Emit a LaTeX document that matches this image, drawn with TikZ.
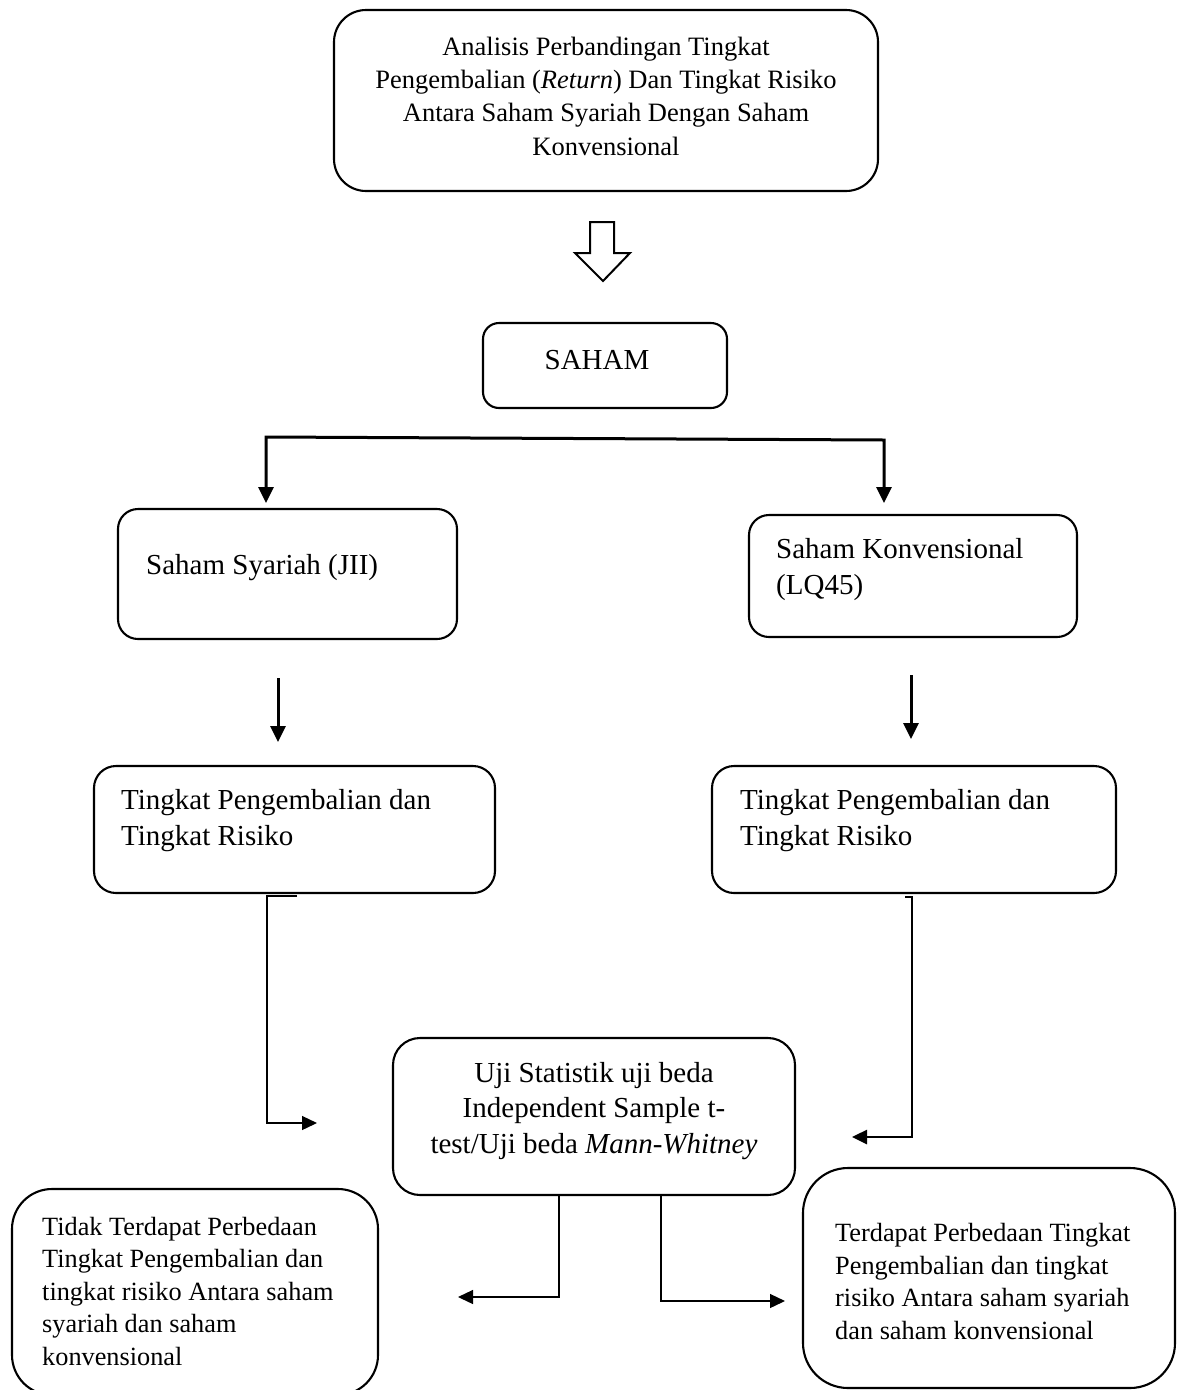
\documentclass[tikz,border=0pt]{standalone}
\usepackage{fontspec}
\setmainfont{Liberation Serif}
\usetikzlibrary{arrows.meta}
\begin{document}
\begin{tikzpicture}[x=1pt,y=-1pt,
  box/.style={draw, line width=2.1pt, rounded corners=#1, inner sep=0pt},
  txtA/.style={inner sep=0pt, font=\fontsize{26.5pt}{33.3pt}\selectfont},
  txtB/.style={inner sep=0pt, font=\fontsize{29pt}{35.5pt}\selectfont},
  txtC/.style={inner sep=0pt, font=\fontsize{26.3pt}{32.5pt}\selectfont},
  thk/.style={line width=3pt},
  thn/.style={line width=1.3pt},
  med/.style={line width=2.6pt},
  tipA/.style={-{Triangle[length=16pt,width=15pt]}},
  tipB/.style={-{Triangle[length=15pt,width=14pt]}}]
\useasboundingbox (0,0) rectangle (1177,1390);

% top box
\node[box=32pt, minimum width=544pt, minimum height=181pt] (top) at (606,100.5) {};
\node[txtA, align=center, anchor=base] (topT) at (606,155) {Analisis Perbandingan Tingkat\\Pengembalian (\textit{Return}) Dan Tingkat Risiko\\Antara Saham Syariah Dengan Saham\\Konvensional};

% hollow block arrow
\draw[line width=2pt, line join=miter] (590,222) -- (614,222) -- (614,253) -- (630,253) -- (603,281) -- (575,253) -- (590,253) -- cycle;

% SAHAM
\node[box=16pt, minimum width=244pt, minimum height=85pt] (saham) at (605,365.5) {};
\node[txtB, anchor=base] (sahamT) at (597,369) {SAHAM};

% branch
\coordinate (bL) at (266,437);
\coordinate (bR) at (884,440);
\coordinate (tL) at (266,503);
\coordinate (tR) at (884,503);
\draw[thk, {Triangle[length=16pt,width=15pt]}-{Triangle[length=16pt,width=15pt]}] (tL) -- (bL) -- (bR) -- (tR);

% Saham Syariah
\node[box=20pt, minimum width=339pt, minimum height=130pt] (syar) at (287.5,574) {};
\node[txtB, anchor=base west] (syarT) at (146,574) {Saham Syariah (JII)};

% Saham Konvensional
\node[box=20pt, minimum width=328pt, minimum height=122pt] (konv) at (913,576) {};
\node[txtB, align=left, anchor=base west] (konvT) at (776,594) {Saham Konvensional\\(LQ45)};

% row-2 arrows
\coordinate (a1s) at (278,678);
\coordinate (a1e) at (278,742);
\coordinate (a2s) at (911,675);
\coordinate (a2e) at (911,739);
\draw[thk, tipA] (a1s) -- (a1e);
\draw[thk, tipA] (a2s) -- (a2e);

% Tingkat boxes
\node[box=22pt, minimum width=401pt, minimum height=127pt] (tingL) at (294.5,829.5) {};
\node[txtB, align=left, anchor=base west] (tingLT) at (121,845) {Tingkat Pengembalian dan\\Tingkat Risiko};
\node[box=22pt, minimum width=404pt, minimum height=127pt] (tingR) at (914,829.5) {};
\node[txtB, align=left, anchor=base west] (tingRT) at (740,845) {Tingkat Pengembalian dan\\Tingkat Risiko};

% Uji box
\node[box=27pt, minimum width=402pt, minimum height=157pt] (uji) at (594,1116.5) {};
\node[txtB, align=center, anchor=base] (ujiT) at (594,1153) {Uji Statistik uji beda\\Independent Sample t-\\test/Uji beda \textit{Mann-Whitney}};

% bottom boxes
\node[box=40pt, minimum width=366pt, minimum height=206pt] (botL) at (195,1292) {};
\node[txtC, align=left, anchor=base west] (botLT) at (42,1365) {Tidak Terdapat Perbedaan\\Tingkat Pengembalian dan\\tingkat risiko Antara saham\\syariah dan saham\\konvensional};
\node[box=45pt, minimum width=372pt, minimum height=220pt] (botR) at (989,1278) {};
\node[txtC, align=left, anchor=base west] (botRT) at (835,1339) {Terdapat Perbedaan Tingkat\\Pengembalian dan tingkat\\risiko Antara saham syariah\\dan saham konvensional};

% left connector
\coordinate (lc1) at (297,896);
\coordinate (lc2) at (267,896);
\coordinate (lc3) at (267,1123);
\coordinate (lc4) at (317,1123);
\draw[thn, tipB] (lc1) -- (lc2) -- (lc3) -- (lc4);

% right connector
\coordinate (rc1) at (905,897);
\coordinate (rc2) at (912,897);
\coordinate (rc3) at (912,1137);
\coordinate (rc4) at (852,1137);
\draw[med, tipB] (rc1) -- (rc2) -- (rc3) -- (rc4);

% uji outputs
\coordinate (ujL) at (559,1297);
\coordinate (ujLt) at (458,1297);
\coordinate (ujR) at (661,1301);
\coordinate (ujRt) at (785,1301);
\draw[thn, tipB] (uji.south -| ujL) -- (ujL) -- (ujLt);
\draw[thn, tipB] (uji.south -| ujR) -- (ujR) -- (ujRt);
\end{tikzpicture}
\end{document}
